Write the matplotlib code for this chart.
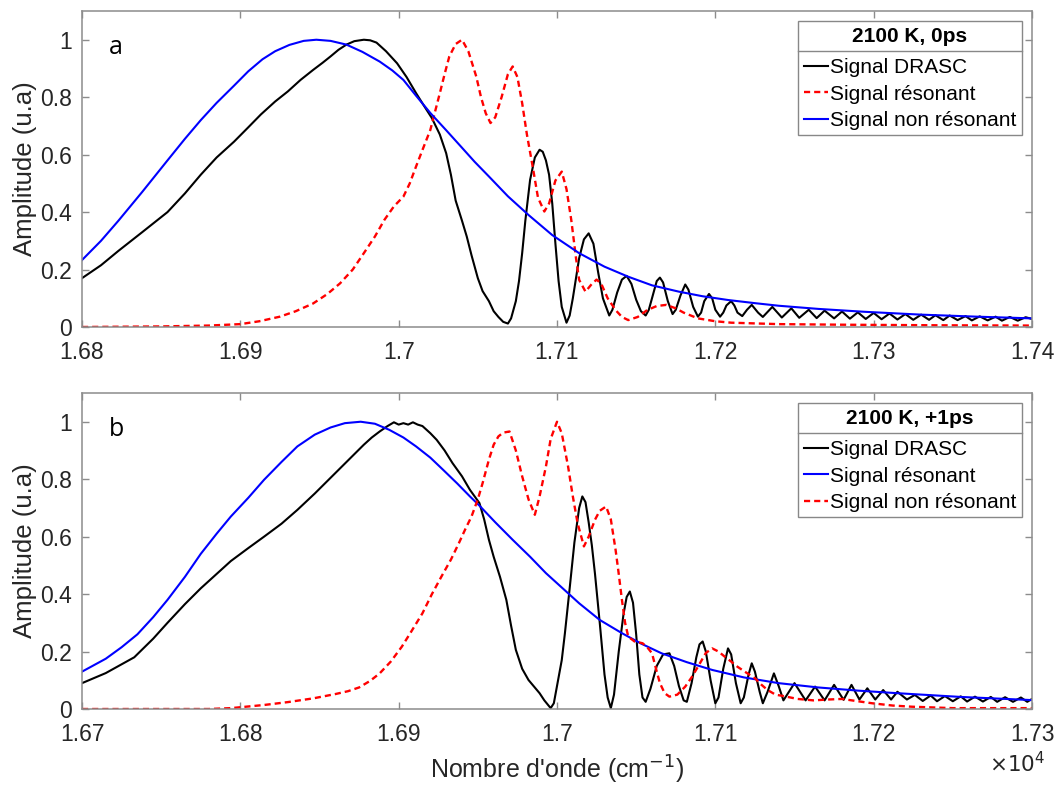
import matplotlib
matplotlib.use("Agg")
import matplotlib.pyplot as plt
from matplotlib.lines import Line2D
from matplotlib.ticker import FuncFormatter

plt.rcParams['font.family'] = ['Liberation Sans', 'DejaVu Sans']

######################################################################
#                      DATA  (a) 2100 K, 0ps                         #
######################################################################

wn_a_drasc = [16800, 16812, 16823, 16838, 16854, 16865, 16875, 16885, 16896, 16905,
              16913, 16922, 16930, 16938, 16946, 16952, 16957, 16962, 16967, 16972,
              16978, 16982, 16986, 16992, 16999, 17005, 17011, 17016, 17021, 17026,
              17030, 17033, 17036, 17040, 17043, 17046, 17050, 17053, 17057, 17060,
              17063, 17066, 17069, 17071, 17074, 17076, 17078, 17080, 17083, 17086,
              17089, 17091, 17093, 17095, 17097, 17099, 17101, 17103, 17106, 17108,
              17110, 17112, 17114, 17117, 17120, 17123, 17126, 17129, 17133, 17135,
              17138, 17141, 17144, 17147, 17150, 17153, 17156, 17158, 17161, 17163,
              17165, 17167, 17170, 17173, 17175, 17178, 17181, 17183, 17186, 17189,
              17191, 17193, 17196, 17198, 17200, 17203, 17205, 17207, 17210, 17212,
              17214, 17217, 17220, 17223, 17227, 17230, 17236, 17242,
              17248, 17253, 17259, 17264, 17269, 17275, 17280, 17285, 17290, 17295,
              17300, 17305, 17310, 17315, 17320, 17325, 17330, 17335, 17339, 17344,
              17348, 17353, 17358, 17362, 17367, 17372, 17377, 17381, 17386, 17391,
              17396, 17400]
amp_a_drasc = [0.17, 0.215, 0.265, 0.33, 0.40, 0.465, 0.53, 0.59, 0.645, 0.695,
               0.74, 0.785, 0.82, 0.86, 0.895, 0.92, 0.942, 0.965, 0.983, 0.995,
               1.0, 0.998, 0.99, 0.96, 0.918, 0.87, 0.814, 0.77, 0.727, 0.67,
               0.605, 0.53, 0.44, 0.37, 0.315, 0.25, 0.17, 0.125, 0.09, 0.055,
               0.035, 0.018, 0.012, 0.03, 0.09, 0.16, 0.257, 0.37, 0.512, 0.59,
               0.617, 0.61, 0.58, 0.53, 0.43, 0.29, 0.16, 0.07, 0.015, 0.04,
               0.10, 0.17, 0.24, 0.305, 0.326, 0.29, 0.19, 0.10, 0.04, 0.06,
               0.12, 0.165, 0.178, 0.15, 0.095, 0.055, 0.04, 0.06, 0.12, 0.16,
               0.172, 0.155, 0.09, 0.045, 0.06, 0.11, 0.148, 0.13, 0.07, 0.036,
               0.05, 0.09, 0.115, 0.10, 0.06, 0.036, 0.05, 0.075, 0.09, 0.075,
               0.05, 0.038, 0.06, 0.077, 0.05, 0.035, 0.07, 0.033,
               0.065, 0.032, 0.06, 0.031, 0.057, 0.03, 0.054, 0.029, 0.051, 0.028,
               0.049, 0.027, 0.047, 0.026, 0.045, 0.025, 0.043, 0.025, 0.041, 0.024,
               0.04, 0.024, 0.038, 0.023, 0.037, 0.023, 0.036, 0.022, 0.035, 0.022,
               0.034, 0.028]

wn_a_res = [16800, 16850, 16880, 16900, 16912, 16925, 16935, 16946, 16955, 16963,
            16971, 16978, 16985, 16991, 16997, 17003, 17007, 17011, 17016, 17020,
            17023, 17026, 17029, 17032, 17036, 17040, 17044, 17049, 17052, 17055,
            17058, 17061, 17065, 17069, 17072, 17075, 17078, 17081, 17085, 17088,
            17092, 17095, 17099, 17103, 17106, 17109, 17112, 17114, 17118, 17122,
            17125, 17128, 17132, 17137, 17141, 17145, 17151, 17157, 17163, 17169,
            17175, 17180, 17189, 17200, 17210, 17240, 17280, 17340, 17400]
amp_a_res = [0.0, 0.002, 0.005, 0.01, 0.02, 0.036, 0.055, 0.082, 0.115, 0.152,
             0.20, 0.257, 0.315, 0.373, 0.42, 0.454, 0.50, 0.559, 0.63, 0.686,
             0.75, 0.814, 0.88, 0.942, 0.985, 1.0, 0.96, 0.872, 0.80, 0.744,
             0.71, 0.73, 0.80, 0.88, 0.907, 0.87, 0.779, 0.67, 0.547, 0.45,
             0.402, 0.43, 0.51, 0.541, 0.48, 0.373, 0.24, 0.164, 0.123, 0.15,
             0.165, 0.15, 0.10, 0.059, 0.035, 0.024, 0.035, 0.059, 0.073, 0.077,
             0.065, 0.05, 0.03, 0.02, 0.015, 0.01, 0.008, 0.006, 0.005]

wn_a_nonres = [16800, 16812, 16823, 16838, 16854, 16865, 16875, 16885, 16896, 16905,
               16914, 16922, 16931, 16940, 16948, 16957, 16967, 16977, 16988, 16996,
               17003, 17011, 17020, 17030, 17040, 17048, 17057, 17069, 17082, 17097,
               17114, 17130, 17145, 17160, 17177, 17192, 17208, 17225, 17240, 17265,
               17294, 17330, 17365, 17400]
amp_a_nonres = [0.233, 0.30, 0.37, 0.47, 0.58, 0.655, 0.72, 0.78, 0.84, 0.89,
                0.932, 0.96, 0.982, 0.996, 1.0, 0.996, 0.983, 0.958, 0.924, 0.893,
                0.86, 0.805, 0.745, 0.685, 0.624, 0.575, 0.524, 0.455, 0.39, 0.32,
                0.257, 0.21, 0.175, 0.145, 0.123, 0.107, 0.094, 0.083, 0.074, 0.063,
                0.053, 0.043, 0.036, 0.03]

######################################################################
#                      DATA  (b) 2100 K, +1ps                        #
######################################################################

wn_b_drasc = [16700, 16715, 16733, 16745, 16754, 16765, 16775, 16785, 16794, 16805,
              16815, 16826, 16836, 16847, 16857, 16868, 16878, 16883, 16888, 16893,
              16897, 16900, 16903, 16906, 16909, 16912, 16915, 16920, 16924, 16929,
              16934, 16940, 16945, 16948, 16951, 16954, 16957, 16960, 16964, 16968,
              16971, 16974, 16978, 16982, 16986, 16989, 16992, 16996, 16998, 17000,
              17003, 17005, 17008, 17011, 17014, 17016, 17018, 17020, 17022, 17024,
              17027, 17030, 17032, 17034, 17036, 17039, 17042, 17044, 17046, 17048,
              17050, 17052, 17054, 17056, 17059, 17063, 17067, 17071, 17074, 17077,
              17080, 17082, 17085, 17088, 17090, 17092, 17094, 17097, 17100, 17102,
              17105, 17108, 17110, 17113, 17116, 17118, 17121, 17123, 17125, 17128,
              17130, 17133, 17137, 17140, 17143, 17150, 17157, 17163, 17169,
              17175, 17181, 17186, 17191, 17196, 17201, 17206, 17211, 17215, 17221,
              17226, 17231, 17236, 17240, 17245, 17250, 17255, 17259, 17264, 17269,
              17274, 17278, 17283, 17288, 17293, 17297, 17300]
amp_b_drasc = [0.09, 0.125, 0.18, 0.245, 0.30, 0.365, 0.42, 0.47, 0.515, 0.56,
               0.60, 0.645, 0.693, 0.75, 0.805, 0.865, 0.92, 0.945, 0.966, 0.985,
               0.998, 0.99, 0.995, 0.99, 0.998, 0.99, 0.985, 0.96, 0.937, 0.90,
               0.856, 0.81, 0.763, 0.74, 0.717, 0.66, 0.589, 0.53, 0.46, 0.38,
               0.29, 0.206, 0.14, 0.101, 0.075, 0.055, 0.03, 0.003, 0.02, 0.08,
               0.17, 0.264, 0.42, 0.58, 0.70, 0.74, 0.72, 0.65, 0.57, 0.47,
               0.30, 0.12, 0.04, 0.003, 0.05, 0.20, 0.33, 0.39, 0.409, 0.37,
               0.26, 0.12, 0.04, 0.025, 0.07, 0.15, 0.19, 0.194, 0.15, 0.08,
               0.03, 0.025, 0.09, 0.18, 0.225, 0.235, 0.20, 0.10, 0.02, 0.04,
               0.14, 0.211, 0.19, 0.09, 0.02, 0.04, 0.12, 0.159, 0.13, 0.06,
               0.02, 0.06, 0.124, 0.08, 0.03, 0.09, 0.03, 0.078, 0.03,
               0.084, 0.032, 0.084, 0.033, 0.072, 0.033, 0.066, 0.033, 0.06, 0.033,
               0.049, 0.028, 0.047, 0.027, 0.045, 0.027, 0.044, 0.026, 0.043, 0.026,
               0.042, 0.025, 0.041, 0.025, 0.04, 0.025, 0.035]

wn_b_res = [16700, 16715, 16725, 16735, 16745, 16754, 16765, 16775, 16785, 16794,
            16805, 16815, 16826, 16836, 16847, 16857, 16866, 16876, 16885, 16894,
            16903, 16911, 16920, 16928, 16937, 16945, 16951, 16961, 16972, 16983,
            16993, 17004, 17014, 17027, 17041, 17053, 17066, 17082, 17098, 17118,
            17140, 17165, 17190, 17215, 17255, 17300]
amp_b_res = [0.13, 0.175, 0.215, 0.26, 0.32, 0.38, 0.46, 0.54, 0.61, 0.67,
             0.735, 0.798, 0.86, 0.914, 0.955, 0.98, 0.995, 1.0, 0.993, 0.972,
             0.945, 0.914, 0.875, 0.833, 0.785, 0.74, 0.708, 0.65, 0.589, 0.53,
             0.473, 0.418, 0.368, 0.31, 0.264, 0.228, 0.194, 0.163, 0.136, 0.11,
             0.09, 0.075, 0.064, 0.055, 0.042, 0.031]

wn_b_nonres = [16700, 16780, 16794, 16815, 16830, 16846, 16860, 16868, 16875, 16882,
               16888, 16895, 16902, 16908, 16915, 16921, 16927, 16933, 16938, 16942,
               16946, 16950, 16953, 16957, 16960, 16963, 16966, 16970, 16974, 16978,
               16982, 16986, 16989, 16993, 16996, 17000, 17003, 17007, 17010, 17013,
               17017, 17020, 17024, 17027, 17031, 17034, 17037, 17039, 17041, 17043,
               17045, 17049, 17054, 17057, 17060, 17063, 17065, 17068, 17071, 17076,
               17081, 17085, 17089, 17094, 17098, 17102, 17106, 17110, 17114, 17120,
               17125, 17129, 17133, 17138, 17143, 17152, 17162, 17171, 17180, 17190,
               17199, 17212, 17224, 17250, 17300]
amp_b_nonres = [0.0, 0.0, 0.003, 0.014, 0.024, 0.037, 0.052, 0.062, 0.075, 0.098,
                0.124, 0.165, 0.217, 0.27, 0.333, 0.40, 0.461, 0.52, 0.577, 0.625,
                0.67, 0.73, 0.786, 0.868, 0.92, 0.949, 0.962, 0.966, 0.90, 0.81,
                0.73, 0.676, 0.74, 0.844, 0.94, 1.0, 0.96, 0.844, 0.74, 0.647,
                0.566, 0.60, 0.659, 0.69, 0.705, 0.66, 0.554, 0.47, 0.38, 0.30,
                0.252, 0.235, 0.229, 0.215, 0.194, 0.13, 0.09, 0.055, 0.043, 0.05,
                0.078, 0.11, 0.147, 0.195, 0.211, 0.20, 0.182, 0.165, 0.147, 0.125,
                0.107, 0.085, 0.066, 0.05, 0.045, 0.035, 0.03, 0.033, 0.035, 0.027,
                0.02, 0.012, 0.008, 0.003, 0.003]

xticks_a = [16800, 16900, 17000, 17100, 17200, 17300, 17400]
xticks_b = [16700, 16800, 16900, 17000, 17100, 17200, 17300]
yticks = [0, 0.2, 0.4, 0.6, 0.8, 1]

###############################################################
#                           PLOT                              #
###############################################################

axis_col = '#8c8c8c'
text_col = '#262626'
dash = (0, (2.6, 1.7))

fig = plt.figure(figsize=(10.59, 7.90), dpi=100)
ax1 = fig.add_axes([82/1059, 1-327/790, 950/1059, 316/790])
ax2 = fig.add_axes([82/1059, 1-709/790, 950/1059, 316/790])

ax1.plot(wn_a_drasc, amp_a_drasc, color='black', lw=1.5, label='Signal DRASC')
ax1.plot(wn_a_res, amp_a_res, color='red', lw=1.7, ls=dash, label='Signal résonant')
ax1.plot(wn_a_nonres, amp_a_nonres, color='blue', lw=1.5, label='Signal non résonant')

ax2.plot(wn_b_drasc, amp_b_drasc, color='black', lw=1.5, label='Signal DRASC')
ax2.plot(wn_b_res, amp_b_res, color='blue', lw=1.5, label='Signal résonant')
ax2.plot(wn_b_nonres, amp_b_nonres, color='red', lw=1.7, ls=dash, label='Signal non résonant')

fmt = FuncFormatter(lambda v, p: '%g' % round(v/1e4, 4))

for ax, xt, letter, title in [(ax1, xticks_a, 'a', '2100 K, 0ps'),
                              (ax2, xticks_b, 'b', '2100 K, +1ps')]:
    ax.set_xlim(xt[0], xt[-1])
    ax.set_ylim(0, 1.1)
    ax.set_xticks(xt)
    ax.set_yticks(yticks)
    ax.xaxis.set_major_formatter(fmt)
    ax.set_yticklabels(['%g' % t for t in yticks])
    ax.tick_params(direction='in', length=5, width=1, color=axis_col, labelcolor=text_col,
                   labelsize=16.5, top=True, right=True)
    ax.tick_params(axis='x', pad=10)
    ax.tick_params(axis='y', pad=7)
    for s in ax.spines.values():
        s.set_color(axis_col)
        s.set_linewidth(1.1)
    ax.set_ylabel('Amplitude (u.a)', fontsize=18.5, color=text_col)
    ax.yaxis.set_label_coords(-0.047, 0.5)
    ax.text(0.036, 0.885, letter, transform=ax.transAxes, fontsize=18, family='Open Sans',
            ha='center', va='center', color='black')
    leg = ax.legend(loc='upper right', title=title, fontsize=15, fancybox=False,
                    framealpha=1, edgecolor='#888888', borderpad=0.25, labelspacing=0.36,
                    handlelength=1.15, handletextpad=0.12, borderaxespad=0.5,
                    title_fontproperties={'weight': 'bold', 'size': 15})
    leg.get_frame().set_linewidth(1.0)
    leg._legend_box.sep = 9

fig.text(557/1059, 1-770/790, "Nombre d'onde (cm$^{-1}$)", fontsize=18, color=text_col,
         ha='center', va='center')
fig.text(1017/1059, 1-765/790, r'$\times10^{4}$', fontsize=15.5, color=text_col,
         ha='center', va='center')

# line under the legend titles
fig.canvas.draw()
r = fig.canvas.get_renderer()
W, H = fig.bbox.width, fig.bbox.height
for ax in [ax1, ax2]:
    leg = ax.get_legend()
    fb = leg.get_frame().get_window_extent(r)
    tb = leg.get_title().get_window_extent(r)
    y = tb.y0 - 5
    fig.add_artist(Line2D([fb.x0/W, fb.x1/W], [y/H, y/H], color='#888888', lw=1.0,
                          transform=fig.transFigure))

plt.savefig('out.png', dpi=100)
